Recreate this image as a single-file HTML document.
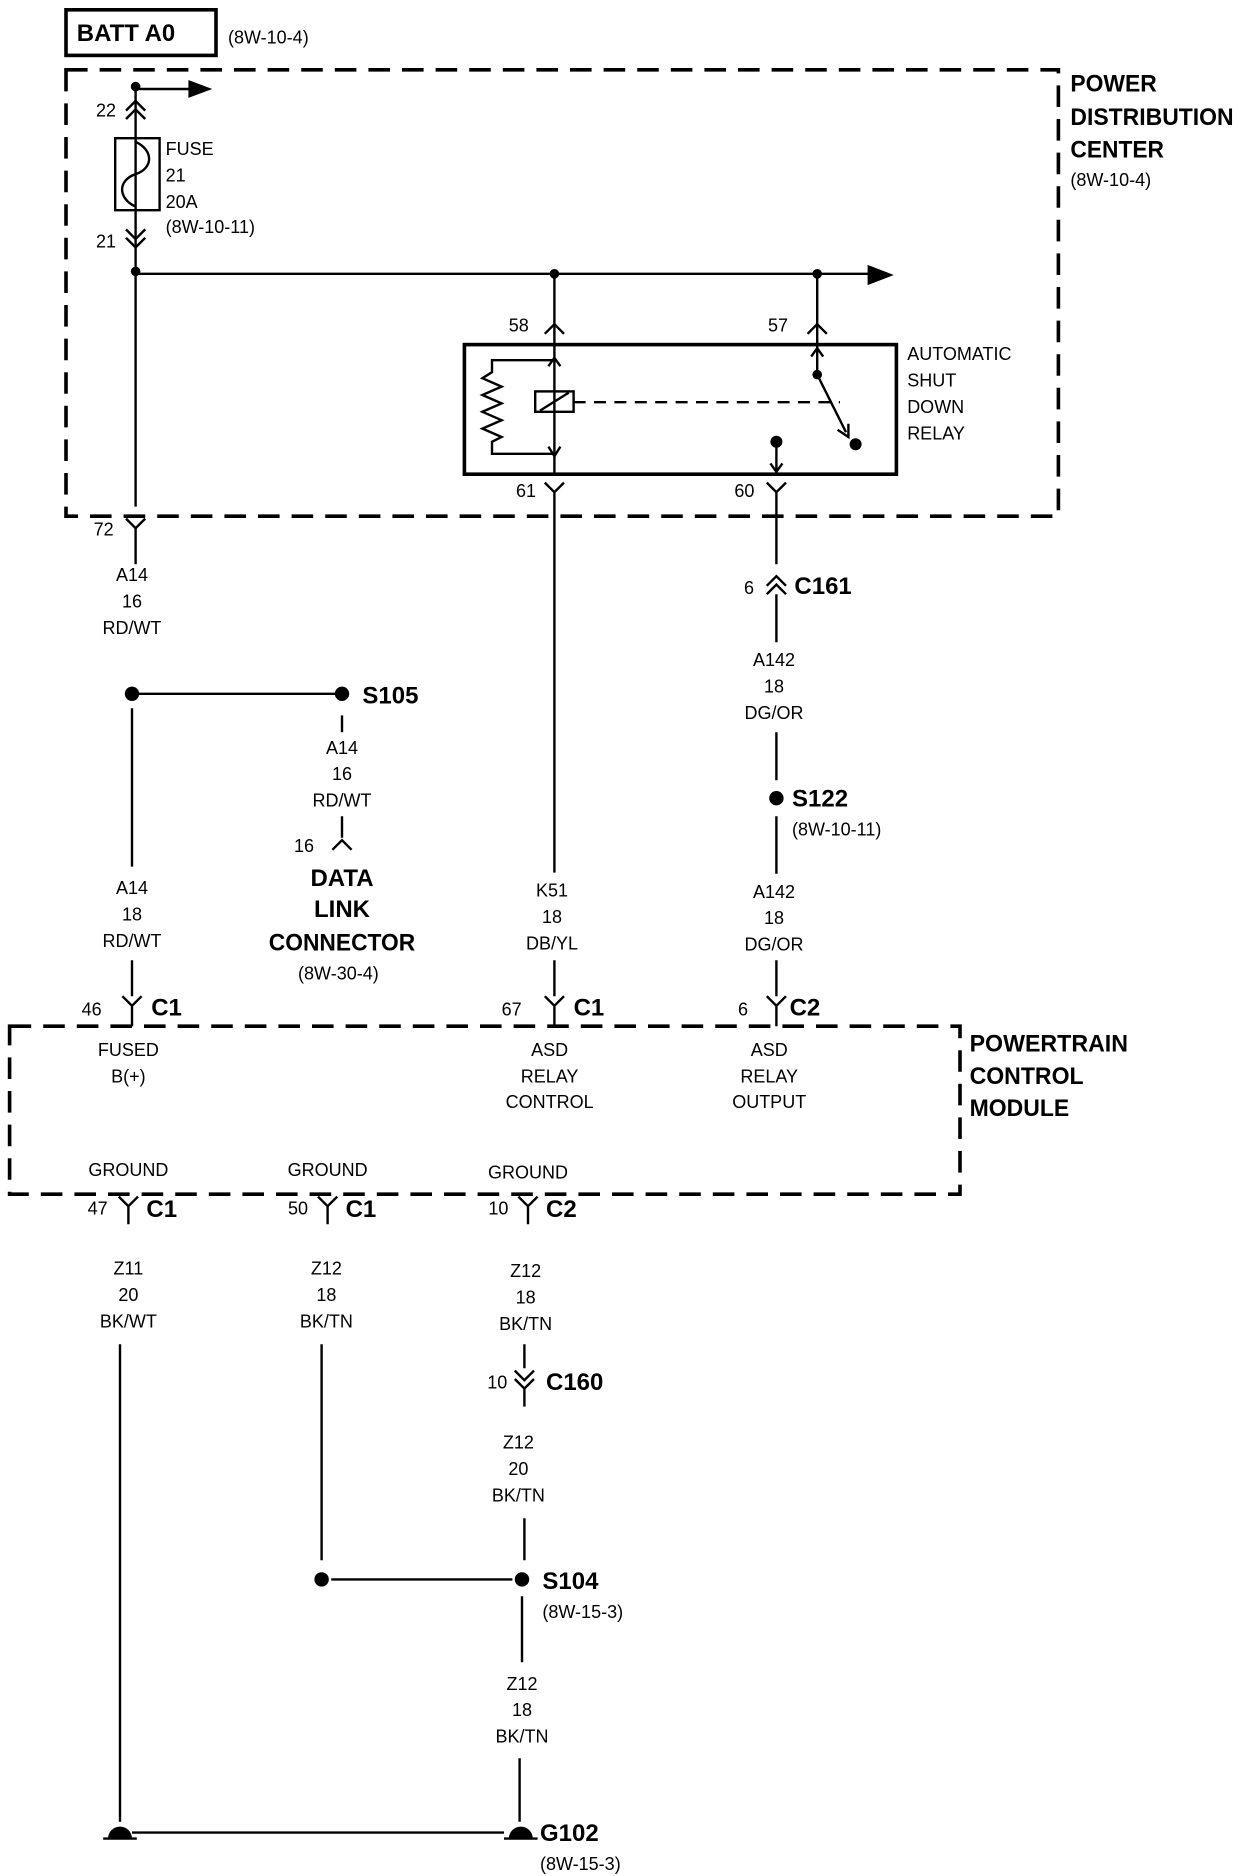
<!DOCTYPE html>
<html><head><meta charset="utf-8"><style>
html,body{margin:0;padding:0;background:#fff}
svg{display:block}
text{font-family:"Liberation Sans Narrow","Liberation Sans",sans-serif;fill:#000}
.s{font-size:15px}
.b{font-size:20px;font-weight:bold}
.c{text-anchor:middle}
</style></head><body>
<svg width="1248" height="1876" viewBox="0 0 1040 1563" xmlns="http://www.w3.org/2000/svg">
<g stroke="#000" stroke-width="2" fill="none">
<rect x="55" y="8" width="125" height="38" stroke-width="3"/>
<path d="M55 58 H882 V430 H55 Z" stroke-width="3" stroke-dasharray="18 10"/>
<path d="M8 855 H800 V995 H8 Z" stroke-width="3" stroke-dasharray="18 10"/>
<path d="M113 72 V422"/>
<path d="M113 74 H160"/>
<path d="M158 68 L174 74 L158 80 Z" fill="#000"/>
<path d="M105 92 L113 84 L121 92 M105 99 L113 91 L121 99"/>
<rect x="96" y="115" width="37" height="60"/>
<path d="M113 118 C128 125 128 140 113 145 C98 150 98 165 113 172"/>
<path d="M105 191 L113 199 L121 191 M105 198 L113 206 L121 198"/>
<path d="M113 228 H725"/>
<path d="M724 222 L742 229 L724 236 Z" fill="#000"/>
<path d="M462 228 V287 M681 228 V287"/>
<path d="M454 278 L462 270 L470 278 M673 278 L681 270 L689 278"/>
<rect x="387" y="287" width="360" height="108" stroke-width="3"/>
<path d="M462 287 V395"/>
<path d="M462 300 H410 V310 L402 315 L418 322 L402 329 L418 336 L402 343 L418 350 L402 357 L418 364 L410 368 V378 H462"/>
<path d="M457 305 L462 298 L467 305 M457 372 L462 380 L467 372"/>
<rect x="446" y="326" width="32" height="17"/>
<path d="M450 342 L474 327"/>
<path d="M478 335 H700" stroke-dasharray="10 7"/>
<path d="M681 287 V312 L705 360"/>
<path d="M676 297 L681 290 L686 297"/>
<path d="M698 358 L707 364 L707 353"/>
<path d="M647 368 V395"/>
<path d="M642 386 L647 393 L652 386"/>
<path d="M454 402 L462 410 L470 402 M462 410 V727"/>
<path d="M639 402 L647 410 L655 402 M647 410 V470"/>
<path d="M105 432 L113 440 L121 432"/>
<path d="M113 440 V470"/>
<path d="M110 590 V722"/>
<path d="M110 578 H285"/>
<path d="M285 596 V610"/>
<path d="M285 680 V698 M277 708 L285 700 L293 708"/>
<path d="M102 830 L110 838 L118 830 M110 838 V855 M110 800 V830"/>
<path d="M454 830 L462 838 L470 830 M462 838 V855 M462 800 V830"/>
<path d="M639 830 L647 838 L655 830 M647 838 V855 M647 800 V830"/>
<path d="M639 488 L647 480 L655 488 M639 495 L647 487 L655 495 M647 495 V535"/>
<path d="M647 610 V650 M647 680 V728"/>
<path d="M99 997 L107 1005 L115 997 M107 1005 V1020"/>
<path d="M265 997 L273 1005 L281 997 M273 1005 V1020"/>
<path d="M432 997 L440 1005 L448 997 M440 1005 V1020"/>
<path d="M100 1120 V1518"/>
<path d="M268 1120 V1300"/>
<path d="M437 1120 V1140 M429 1142 L437 1150 L445 1142 M429 1149 L437 1157 L445 1149 M437 1157 V1172"/>
<path d="M437 1265 V1300 M276 1316 H427 M435 1330 V1385 M433 1465 V1518"/>
<path d="M110 1527 H420"/>
<path d="M86 1532 H114 M420 1532 H448"/>
</g>
<g fill="#000">
<circle cx="113" cy="72" r="4"/><circle cx="113" cy="226" r="4"/>
<circle cx="462" cy="228" r="4"/><circle cx="681" cy="228" r="4"/>
<circle cx="681" cy="312" r="4"/><circle cx="713" cy="370" r="5"/><circle cx="647" cy="368" r="5"/>
<circle cx="110" cy="578" r="6"/><circle cx="285" cy="578" r="6"/>
<circle cx="647" cy="665" r="6"/>
<circle cx="268" cy="1316" r="6"/><circle cx="435" cy="1316" r="6"/>
<path d="M90 1532 A10 10 0 0 1 110 1532 Z"/>
<path d="M424 1532 A10 10 0 0 1 444 1532 Z"/>
</g>
<text x="64" y="34" class="b" textLength="82" lengthAdjust="spacingAndGlyphs">BATT A0</text>
<text x="190" y="36" class="s">(8W-10-4)</text>
<text x="892" y="76" class="b" textLength="72" lengthAdjust="spacingAndGlyphs">POWER</text>
<text x="892" y="104" class="b" textLength="136" lengthAdjust="spacingAndGlyphs">DISTRIBUTION</text>
<text x="892" y="131" class="b" textLength="78" lengthAdjust="spacingAndGlyphs">CENTER</text>
<text x="892" y="155" class="s">(8W-10-4)</text>
<text x="80" y="97" class="s">22</text>
<text x="138" y="129" class="s">FUSE</text>
<text x="138" y="151" class="s">21</text>
<text x="138" y="173" class="s">20A</text>
<text x="138" y="194" class="s">(8W-10-11)</text>
<text x="80" y="206" class="s">21</text>
<text x="424" y="276" class="s">58</text>
<text x="640" y="276" class="s">57</text>
<text x="756" y="300" class="s">AUTOMATIC</text>
<text x="756" y="322" class="s">SHUT</text>
<text x="756" y="344" class="s">DOWN</text>
<text x="756" y="366" class="s">RELAY</text>
<text x="430" y="414" class="s">61</text>
<text x="612" y="414" class="s">60</text>
<text x="78" y="446" class="s">72</text>
<text x="110" y="484" class="s c">A14</text><text x="110" y="506" class="s c">16</text><text x="110" y="528" class="s c">RD/WT</text>
<text x="285" y="628" class="s c">A14</text><text x="285" y="650" class="s c">16</text><text x="285" y="672" class="s c">RD/WT</text>
<text x="110" y="745" class="s c">A14</text><text x="110" y="767" class="s c">18</text><text x="110" y="789" class="s c">RD/WT</text>
<text x="460" y="747" class="s c">K51</text><text x="460" y="769" class="s c">18</text><text x="460" y="791" class="s c">DB/YL</text>
<text x="645" y="555" class="s c">A142</text><text x="645" y="577" class="s c">18</text><text x="645" y="599" class="s c">DG/OR</text>
<text x="645" y="748" class="s c">A142</text><text x="645" y="770" class="s c">18</text><text x="645" y="792" class="s c">DG/OR</text>
<text x="107" y="880" class="s c">FUSED</text><text x="107" y="902" class="s c">B(+)</text>
<text x="458" y="880" class="s c">ASD</text><text x="458" y="902" class="s c">RELAY</text><text x="458" y="923" class="s c">CONTROL</text>
<text x="641" y="880" class="s c">ASD</text><text x="641" y="902" class="s c">RELAY</text><text x="641" y="923" class="s c">OUTPUT</text>
<text x="107" y="980" class="s c">GROUND</text><text x="273" y="980" class="s c">GROUND</text><text x="440" y="982" class="s c">GROUND</text>
<text x="107" y="1062" class="s c">Z11</text><text x="107" y="1084" class="s c">20</text><text x="107" y="1106" class="s c">BK/WT</text>
<text x="272" y="1062" class="s c">Z12</text><text x="272" y="1084" class="s c">18</text><text x="272" y="1106" class="s c">BK/TN</text>
<text x="438" y="1064" class="s c">Z12</text><text x="438" y="1086" class="s c">18</text><text x="438" y="1108" class="s c">BK/TN</text>
<text x="432" y="1207" class="s c">Z12</text><text x="432" y="1229" class="s c">20</text><text x="432" y="1251" class="s c">BK/TN</text>
<text x="435" y="1408" class="s c">Z12</text><text x="435" y="1430" class="s c">18</text><text x="435" y="1452" class="s c">BK/TN</text>
<text x="285" y="738" class="b c">DATA</text><text x="285" y="764" class="b c">LINK</text>
<text x="285" y="792" class="b c" textLength="122" lengthAdjust="spacingAndGlyphs">CONNECTOR</text>
<text x="282" y="816" class="s c">(8W-30-4)</text>
<text x="302" y="586" class="b">S105</text>
<text x="245" y="710" class="s">16</text>
<text x="620" y="495" class="s">6</text><text x="662" y="495" class="b">C161</text>
<text x="660" y="672" class="b">S122</text><text x="660" y="696" class="s">(8W-10-11)</text>
<text x="68" y="846" class="s">46</text><text x="126" y="846" class="b">C1</text>
<text x="418" y="846" class="s">67</text><text x="478" y="846" class="b">C1</text>
<text x="615" y="846" class="s">6</text><text x="658" y="846" class="b">C2</text>
<text x="808" y="876" class="b" textLength="132" lengthAdjust="spacingAndGlyphs">POWERTRAIN</text>
<text x="808" y="903" class="b" textLength="95" lengthAdjust="spacingAndGlyphs">CONTROL</text>
<text x="808" y="930" class="b" textLength="83" lengthAdjust="spacingAndGlyphs">MODULE</text>
<text x="73" y="1012" class="s">47</text><text x="122" y="1014" class="b">C1</text>
<text x="240" y="1012" class="s">50</text><text x="288" y="1014" class="b">C1</text>
<text x="407" y="1012" class="s">10</text><text x="455" y="1014" class="b">C2</text>
<text x="406" y="1157" class="s">10</text><text x="455" y="1158" class="b">C160</text>
<text x="452" y="1324" class="b">S104</text><text x="452" y="1348" class="s">(8W-15-3)</text>
<text x="450" y="1534" class="b">G102</text><text x="450" y="1558" class="s">(8W-15-3)</text>
</svg>
</body></html>
